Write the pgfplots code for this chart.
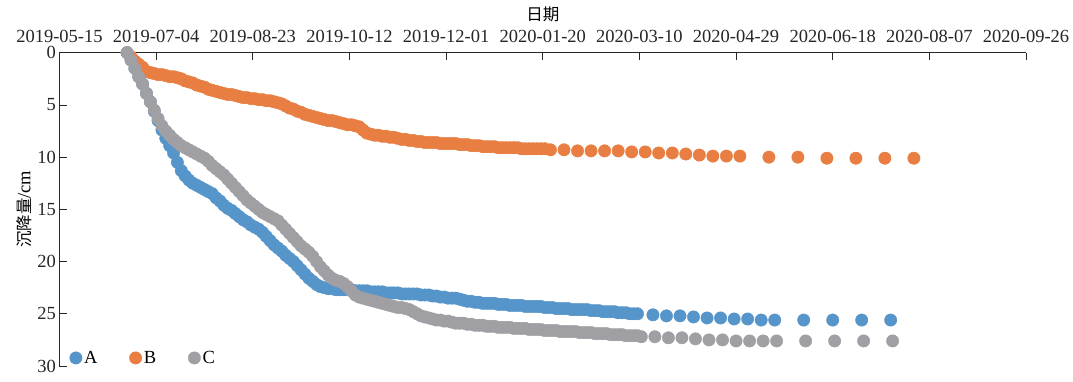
\documentclass[border=0pt]{standalone}
\usepackage{pgfplots}
\pgfplotsset{compat=1.18}
\usepackage{fontspec}
\setmainfont{Liberation Serif}
\newfontfamily\cjk{Noto Sans CJK SC}

\definecolor{cA}{RGB}{86,149,202}
\definecolor{cB}{RGB}{232,126,66}
\definecolor{cC}{RGB}{160,160,164}

\begin{document}
\begin{tikzpicture}
\useasboundingbox (-59.5pt,-15pt) rectangle (1013.5pt,366pt);
\begin{axis}[
  at={(0pt,0pt)}, anchor=south west,
  scale only axis, width=966.5pt, height=313.3pt,
  xmin=0, xmax=500, ymin=0, ymax=30, y dir=reverse,
  axis x line*=top, axis y line*=left,
  axis line style={line width=0.8pt, black!85},
  tick style={line width=0.8pt, black!85},
  tick align=inside, major tick length=7pt,
  xtick={0,50,...,500},
  xticklabels={2019-05-15,2019-07-04,2019-08-23,2019-10-12,2019-12-01,2020-01-20,2020-03-10,2020-04-29,2020-06-18,2020-08-07,2020-09-26},
  ytick={0,5,...,30},
  /pgf/number format/assume math mode=true,
  tick label style={font=\fontsize{18.5}{22}\selectfont, text=black!85},
  xticklabel style={yshift=6pt},
  every axis x label/.style={at={(axis description cs:0.5,1)}, anchor=center, yshift=38pt},
  every axis y label/.style={at={(axis description cs:-0.0367,0.5)}, anchor=center, rotate=90},
  xlabel={\cjk\fontsize{16.5}{18}\selectfont 日期},
  ylabel={\fontsize{18.5}{22}\selectfont{\cjk\fontsize{16.5}{18}\selectfont 沉降量}/cm},
  clip=false,
  legend style={at={(axis description cs:0,0)}, anchor=south west, draw=none, fill=none,
    font=\fontsize{18.5}{22}\selectfont, legend columns=-1, xshift=7pt, yshift=-3pt,
    /tikz/every even column/.append style={column sep=30pt}},
  legend cell align=left,
]
% A
\addplot[only marks, mark=*, mark size=6.2pt, color=cA] table[row sep=\\] {
x y\\
35 0.0\\ 37 0.7\\ 39 1.5\\ 41 2.3\\ 43 3.0\\ 45 3.9\\ 47 4.7\\ 49 5.6\\ 51 6.5\\ 53 7.4\\
55 8.2\\ 57 8.9\\ 59 9.6\\ 61 10.5\\ 63 11.3\\ 65 11.8\\ 67 12.2\\ 69 12.5\\ 71 12.7\\ 73 12.9\\
75 13.1\\ 77 13.3\\ 79 13.5\\ 81 13.9\\ 83 14.2\\ 85 14.6\\ 87 14.9\\ 89 15.1\\ 91 15.4\\ 93 15.7\\
95 16.0\\ 97 16.2\\ 99 16.5\\ 101 16.7\\ 103 16.9\\ 105 17.2\\ 107 17.6\\ 109 18.0\\ 111 18.4\\ 113 18.7\\
115 19.0\\ 117 19.4\\ 119 19.7\\ 121 20.0\\ 123 20.4\\ 125 20.8\\ 127 21.2\\ 129 21.6\\ 131 21.9\\ 133 22.2\\
135 22.4\\ 137 22.5\\ 139 22.6\\ 141 22.6\\ 143 22.7\\ 145 22.7\\ 147 22.7\\ 149 22.7\\ 151 22.7\\ 153 22.8\\
155 22.8\\ 157 22.8\\ 159 22.8\\ 161 22.9\\ 163 22.9\\ 165 22.9\\ 167 22.9\\ 169 23.0\\ 171 23.0\\ 173 23.0\\
175 23.0\\ 177 23.1\\ 179 23.1\\ 181 23.1\\ 183 23.1\\ 185 23.1\\ 187 23.2\\ 189 23.2\\ 191 23.2\\ 193 23.3\\
195 23.3\\ 197 23.4\\ 199 23.4\\ 201 23.5\\ 203 23.5\\ 205 23.5\\ 207 23.6\\ 209 23.7\\ 211 23.8\\ 213 23.8\\
215 23.9\\ 217 23.9\\ 219 24.0\\ 221 24.0\\ 223 24.0\\ 225 24.0\\ 227 24.1\\ 229 24.1\\ 231 24.1\\ 233 24.2\\
235 24.2\\ 237 24.2\\ 239 24.2\\ 241 24.3\\ 243 24.3\\ 245 24.3\\ 247 24.3\\ 249 24.3\\ 251 24.4\\ 253 24.4\\
255 24.4\\ 257 24.5\\ 259 24.5\\ 261 24.5\\ 263 24.5\\ 265 24.6\\ 267 24.6\\ 269 24.6\\ 271 24.6\\ 273 24.6\\
275 24.7\\ 277 24.7\\ 279 24.7\\ 281 24.8\\ 283 24.8\\ 285 24.8\\ 287 24.8\\ 289 24.9\\ 291 24.9\\ 293 24.9\\
295 25.0\\ 297 25.0\\ 299 25.0\\
307 25.1\\ 314 25.2\\ 321 25.2\\ 328 25.3\\ 335 25.4\\ 342 25.4\\ 349 25.5\\ 356 25.5\\ 363 25.6\\ 370 25.6\\
385 25.6\\ 400 25.6\\ 415 25.6\\ 430 25.6\\
};
\addlegendentry{A}
% B
\addplot[only marks, mark=*, mark size=6.2pt, color=cB] table[row sep=\\] {
x y\\
35 0.0\\ 37 0.4\\ 39 0.8\\ 41 1.1\\ 43 1.4\\ 45 1.8\\ 47 1.9\\ 49 2.0\\ 51 2.1\\ 53 2.1\\
55 2.2\\ 57 2.3\\ 59 2.3\\ 61 2.4\\ 63 2.5\\ 65 2.7\\ 67 2.8\\ 69 2.9\\ 71 3.1\\ 73 3.2\\
75 3.3\\ 77 3.5\\ 79 3.6\\ 81 3.7\\ 83 3.8\\ 85 3.9\\ 87 4.0\\ 89 4.0\\ 91 4.1\\ 93 4.2\\
95 4.3\\ 97 4.3\\ 99 4.4\\ 101 4.4\\ 103 4.5\\ 105 4.5\\ 107 4.6\\ 109 4.6\\ 111 4.7\\ 113 4.8\\
115 4.9\\ 117 5.1\\ 119 5.3\\ 121 5.4\\ 123 5.6\\ 125 5.7\\ 127 5.9\\ 129 6.0\\ 131 6.1\\ 133 6.2\\
135 6.3\\ 137 6.4\\ 139 6.5\\ 141 6.5\\ 143 6.6\\ 145 6.7\\ 147 6.8\\ 149 6.9\\ 151 6.9\\ 153 7.0\\
155 7.1\\ 157 7.4\\ 159 7.7\\ 161 7.8\\ 163 7.9\\ 165 7.9\\ 167 8.0\\ 169 8.0\\ 171 8.1\\ 173 8.1\\
175 8.2\\ 177 8.3\\ 179 8.3\\ 181 8.4\\ 183 8.4\\ 185 8.5\\ 187 8.5\\ 189 8.6\\ 191 8.6\\ 193 8.6\\
195 8.6\\ 197 8.7\\ 199 8.7\\ 201 8.7\\ 203 8.7\\ 205 8.7\\ 207 8.8\\ 209 8.8\\ 211 8.8\\ 213 8.9\\
215 8.9\\ 217 8.9\\ 219 9.0\\ 221 9.0\\ 223 9.0\\ 225 9.0\\ 227 9.1\\ 229 9.1\\ 231 9.1\\ 233 9.1\\
235 9.1\\ 237 9.1\\ 239 9.2\\ 241 9.2\\ 243 9.2\\ 245 9.2\\ 247 9.2\\ 249 9.2\\ 251 9.2\\
254 9.3\\ 261 9.3\\ 268 9.4\\ 275 9.4\\ 282 9.4\\ 289 9.4\\ 296 9.5\\ 303 9.5\\ 310 9.6\\ 317 9.6\\
324 9.7\\ 331 9.8\\ 338 9.9\\ 345 9.9\\ 352 9.9\\
367 10.0\\ 382 10.0\\ 397 10.1\\ 412 10.1\\ 427 10.1\\ 442 10.1\\
};
\addlegendentry{B}
% C
\addplot[only marks, mark=*, mark size=6.2pt, color=cC] table[row sep=\\] {
x y\\
35 0.0\\ 37 0.7\\ 39 1.5\\ 41 2.3\\ 43 3.0\\ 45 3.9\\ 47 4.7\\ 49 5.5\\ 51 6.3\\ 53 7.0\\
55 7.5\\ 57 7.9\\ 59 8.3\\ 61 8.6\\ 63 8.9\\ 65 9.1\\ 67 9.3\\ 69 9.5\\ 71 9.7\\ 73 9.9\\
75 10.1\\ 77 10.4\\ 79 10.8\\ 81 11.1\\ 83 11.4\\ 85 11.7\\ 87 12.1\\ 89 12.5\\ 91 12.9\\ 93 13.3\\
95 13.7\\ 97 14.1\\ 99 14.4\\ 101 14.7\\ 103 15.0\\ 105 15.3\\ 107 15.5\\ 109 15.7\\ 111 15.9\\ 113 16.1\\
115 16.5\\ 117 16.9\\ 119 17.3\\ 121 17.7\\ 123 18.1\\ 125 18.5\\ 127 18.8\\ 129 19.1\\ 131 19.5\\ 133 20.0\\
135 20.5\\ 137 20.9\\ 139 21.3\\ 141 21.6\\ 143 21.8\\ 145 21.9\\ 147 22.1\\ 149 22.4\\ 151 22.8\\ 153 23.2\\
155 23.4\\ 157 23.5\\ 159 23.6\\ 161 23.7\\ 163 23.8\\ 165 23.9\\ 167 24.0\\ 169 24.1\\ 171 24.2\\ 173 24.3\\
175 24.4\\ 177 24.4\\ 179 24.5\\ 181 24.6\\ 183 24.8\\ 185 25.0\\ 187 25.2\\ 189 25.3\\ 191 25.4\\ 193 25.5\\
195 25.6\\ 197 25.6\\ 199 25.7\\ 201 25.7\\ 203 25.8\\ 205 25.9\\ 207 25.9\\ 209 25.9\\ 211 26.0\\ 213 26.0\\
215 26.1\\ 217 26.1\\ 219 26.1\\ 221 26.2\\ 223 26.2\\ 225 26.2\\ 227 26.3\\ 229 26.3\\ 231 26.3\\ 233 26.3\\
235 26.4\\ 237 26.4\\ 239 26.4\\ 241 26.4\\ 243 26.5\\ 245 26.5\\ 247 26.5\\ 249 26.5\\ 251 26.6\\ 253 26.6\\
255 26.6\\ 257 26.6\\ 259 26.7\\ 261 26.7\\ 263 26.7\\ 265 26.7\\ 267 26.7\\ 269 26.8\\ 271 26.8\\ 273 26.8\\
275 26.8\\ 277 26.9\\ 279 26.9\\ 281 26.9\\ 283 26.9\\ 285 27.0\\ 287 27.0\\ 289 27.0\\ 291 27.0\\ 293 27.1\\
295 27.1\\ 297 27.1\\ 299 27.1\\ 301 27.2\\
308 27.2\\ 315 27.3\\ 322 27.3\\ 329 27.4\\ 336 27.5\\ 343 27.5\\ 350 27.6\\ 357 27.6\\ 364 27.6\\ 371 27.6\\
386 27.6\\ 401 27.6\\ 416 27.6\\ 431 27.6\\
};
\addlegendentry{C}
\end{axis}
\end{tikzpicture}
\end{document}
